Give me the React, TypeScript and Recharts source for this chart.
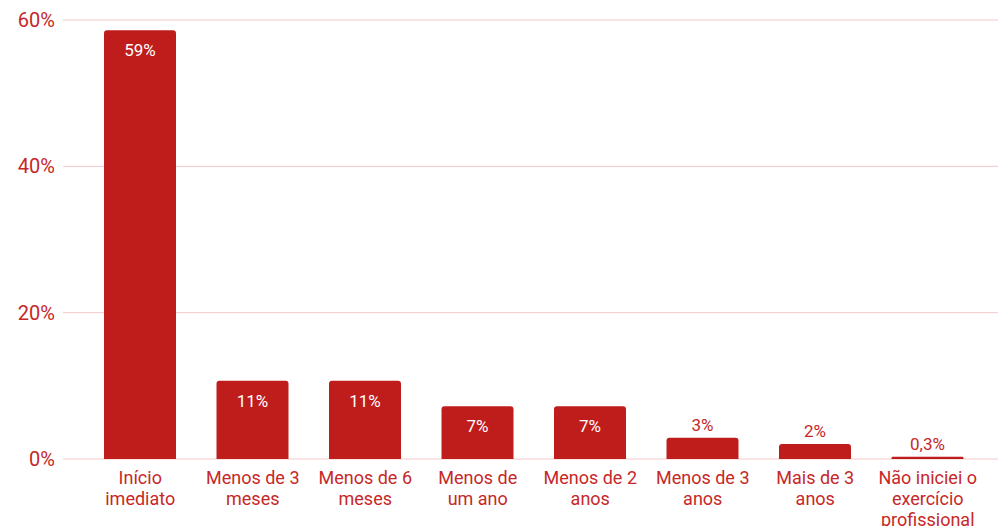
import { BarChart, Bar, XAxis, YAxis, CartesianGrid, LabelList } from "recharts";

const categories = [
  "Início\nimediato",
  "Menos de 3\nmeses",
  "Menos de 6\nmeses",
  "Menos de\num ano",
  "Menos de 2\nanos",
  "Menos de 3\nanos",
  "Mais de 3\nanos",
  "Não iniciei o\nexercício\nprofissional",
];
const values = [58.6, 10.7, 10.7, 7.2, 7.2, 2.9, 2.05, 0.3];
const valueLabels = ["59%", "11%", "11%", "7%", "7%", "3%", "2%", "0,3%"];
const yTicks = [0, 20, 40, 60];

const data = categories.map((name, i) => ({
  name,
  value: values[i],
  label: valueLabels[i],
}));

const BAR = "#bf1c1c";
const TEXT = "#c62828";
const GRID = "#f5c8c8";
const FONT = "Roboto, sans-serif";

function CategoryTick(props: any) {
  const { x, y, payload } = props;
  const lines = String(payload.value).split("\n");
  return (
    <text x={x} y={y} textAnchor="middle" fill={TEXT} fontSize={18} fontFamily={FONT}>
      {lines.map((line, i) => (
        <tspan key={i} x={x} dy={i === 0 ? 17 : 21}>
          {line}
        </tspan>
      ))}
    </text>
  );
}

function ValueLabel(props: any) {
  const { x, y, width, value, index } = props;
  const inside = values[index] >= 5;
  return (
    <text
      x={x + width / 2}
      y={inside ? y + 20 : y - 13}
      textAnchor="middle"
      dominantBaseline="central"
      fill={inside ? "#ffffff" : TEXT}
      fontSize={17}
      fontFamily={FONT}
    >
      {value}
    </text>
  );
}

export default function App() {
  return (
    <div style={{ position: "absolute", left: 0, top: 0, background: "#fff" }}>
      <BarChart
        width={998}
        height={526}
        data={data}
        margin={{ top: 20, right: 0, bottom: 0, left: 0 }}
      >
        <CartesianGrid vertical={false} stroke={GRID} />
        <XAxis
          dataKey="name"
          height={67}
          axisLine={false}
          tickLine={false}
          interval={0}
          padding={{ left: 21, right: 14 }}
          tick={<CategoryTick />}
        />
        <YAxis
          width={63}
          domain={[0, 60]}
          ticks={yTicks}
          axisLine={false}
          tickLine={false}
          tickFormatter={(v: number) => `${v}%`}
          tick={{ fill: TEXT, fontSize: 20, fontFamily: FONT }}
        />
        <Bar dataKey="value" fill={BAR} barSize={72} radius={[3, 3, 0, 0]} isAnimationActive={false}>
          <LabelList dataKey="label" content={<ValueLabel />} />
        </Bar>
      </BarChart>
    </div>
  );
}
